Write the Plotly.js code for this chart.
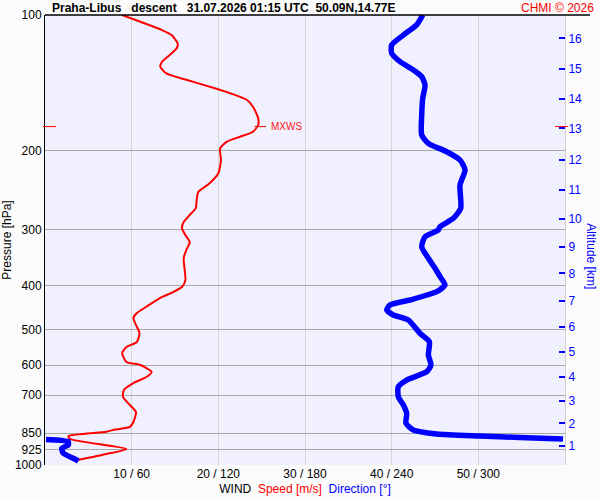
<!DOCTYPE html>
<html>
<head>
<meta charset="utf-8">
<script src="https://cdn.plot.ly/plotly-3.0.1.min.js"></script>
<style>
  body { margin: 0; background: #fbfbfb; }
  #chart-area { width: 600px; height: 500px; }
</style>
</head>
<body>
<div id="chart-area"></div>
<script>
// wind speed profile [m/s] against pressure [hPa]
const speedP = [100, 103.5, 108, 110.8, 115.6, 118.6, 122.7, 127, 130.3, 134.8, 139.5, 145.5, 149.3, 154.5,
  159.9, 169.6, 175.6, 181.7, 186.4, 191.2, 197.8, 210, 224.8, 236.6, 247, 257.5, 268.6, 278.3, 288.5,
  297.6, 308.4, 319.7, 333, 346.8, 388.2, 402.3, 412.7, 425.2, 445, 459.5, 471.4, 488.6, 508.9, 532.9,
  546.7, 563.7, 590.3, 599.4, 621.4, 637.5, 657.4, 681.3, 706.2, 735.6, 762.5, 802.5, 823, 834, 843.3,
  862.1, 875.4, 921.5, 945.3, 974.7];
const speedV = [8.9, 11.0, 13.5, 14.6, 15.3, 15.2, 14.4, 13.5, 13.3, 14.0, 16.4, 19.6, 21.4, 23.3,
  24.0, 24.6, 24.6, 24.0, 22.5, 21.0, 20.2, 20.3, 20.0, 19.0, 17.7, 17.5, 17.4, 16.7, 16.0,
  15.8, 16.2, 16.7, 16.3, 16.0, 16.2, 15.8, 14.8, 13.3, 11.7, 10.6, 10.2, 10.5, 10.9, 10.6,
  9.4, 8.9, 9.4, 11.0, 12.3, 11.7, 10.2, 9.1, 9.0, 9.8, 10.5, 10.2, 9.8, 8.1, 7.1,
  2.7, 2.9, 9.4, 7.1, 3.8];

// wind direction profile [deg] against pressure [hPa]
const dirP = [100, 105.2, 110.8, 116.6, 121.6, 127, 132.5, 137.1, 143.1, 153.1, 166.8, 184.8, 192.8,
  201.3, 210, 221, 238.7, 268.9, 283, 295.4, 300.5, 311, 327.3, 347.3, 365.5, 381.5, 398.1, 412,
  429.9, 441.1, 452.5, 464.2, 476.2, 509.7, 532.1, 569.4, 599.4, 620.4, 647.4, 669.9, 705.1, 735.6,
  767.8, 808, 836, 853.3, 862.1, 868.7, 875.4, 877.6, 887.6, 902.7, 918.2, 941.9, 966.3, 979.7];
const dirV = [261.5, 257.3, 248.1, 240.0, 240.0, 245.8, 255.0, 260.8, 263.1, 261.5, 260.8, 260.8, 265.4,
  278.1, 287.3, 290.8, 287.3, 287.8, 282.7, 273.5, 272.3, 263.1, 260.8, 265.4, 270.0, 273.5, 276.9, 271.2,
  252.7, 238.8, 236.6, 241.1, 251.5, 259.6, 266.1, 265.4, 267.2, 264.3, 250.4, 244.6, 244.6, 248.1,
  250.4, 249.9, 255.0, 271.2, 301.2, 328.8, 358.6, 0.7, 16.1, 16.1, 11.6, 12.7, 19.6, 23.1];

// axis ticks
const presTicks = [100, 200, 300, 400, 500, 600, 700, 850, 925, 1000];
const windTicks = [10, 20, 30, 40, 50];
const altKm = [1, 2, 3, 4, 5, 6, 7, 8, 9, 10, 11, 12, 13, 14, 15, 16];
const altP = [907.4, 808, 720.8, 636.5, 561.7, 492.8, 431.4, 375, 327.3, 284, 244.7, 210, 178.6, 153.5, 131.8, 112.7];

// max wind level
const mxwsP = 177;
const mxwsV = 24.6;

const FONT = "Arial, 'Liberation Sans', sans-serif";

// break the direction line where it wraps over 360 -> 0
let dirX = [], dirY = [];
for (let i = 0; i < dirV.length; i++) {
  if (i > 0 && Math.abs(dirV[i] - dirV[i - 1]) > 180) {
    dirX.push(null);
    dirY.push(null);
  }
  dirX.push(dirV[i]);
  dirY.push(dirP[i]);
}

let data = [
  {
    x: speedV,
    y: speedP,
    type: "scatter",
    mode: "lines",
    line: { color: "#ff0000", width: 2, shape: "spline", smoothing: 0.6 },
    hoverinfo: "none",
  },
  {
    x: dirX,
    y: dirY,
    xaxis: "x2",
    yaxis: "y2",
    type: "scatter",
    mode: "lines",
    line: { color: "#0000ff", width: 5.5, shape: "spline", smoothing: 0.6 },
    connectgaps: false,
    hoverinfo: "none",
  },
];

// pressure level -> paper fraction (log axis, 100 hPa at the top, 1000 at the bottom)
const mxwsY = 1 - (Math.log10(mxwsP) - 2);

var layout = {
  width: 600,
  height: 500,
  margin: { l: 45, r: 35, t: 15, b: 35 },
  paper_bgcolor: "#fbfbfb",
  plot_bgcolor: "#f0f0ff",
  showlegend: false,
  font: { family: FONT, size: 12, color: "#000" },
  xaxis: {
    range: [0, 60],
    tickvals: windTicks,
    ticktext: windTicks.map((s) => s + " / " + s * 6),
    showgrid: true,
    gridcolor: "#d6d6d6",
    zeroline: false,
    showline: false,
    ticks: "",
    tickfont: { size: 12, color: "#000" },
    title: {
      text: 'WIND&nbsp;&nbsp;<span style="color:#ff0000">Speed [m/s]</span>&nbsp;&nbsp;<span style="color:#0000ff">Direction [°]</span>',
      font: { size: 12, color: "#000" },
      standoff: 4,
    },
  },
  xaxis2: {
    range: [0, 360],
    overlaying: "x",
    visible: false,
  },
  yaxis: {
    type: "log",
    range: [3, 2],
    autorange: false,
    tickvals: presTicks,
    ticktext: presTicks.map(String),
    showgrid: true,
    gridcolor: "#a8a8a8",
    gridwidth: 1,
    zeroline: false,
    showline: true,
    linecolor: "#000",
    linewidth: 1,
    ticks: "",
    tickfont: { size: 12, color: "#000" },
    title: { text: "Pressure [hPa]", font: { size: 12, color: "#000" }, standoff: 6 },
  },
  yaxis2: {
    type: "log",
    range: [3, 2],
    autorange: false,
    overlaying: "y",
    side: "right",
    tickvals: altP,
    ticktext: altKm.map(String),
    ticks: "inside",
    ticklen: 6,
    tickwidth: 2,
    tickcolor: "#0000ff",
    tickfont: { size: 12, color: "#0000ff" },
    showgrid: false,
    zeroline: false,
    showline: true,
    linecolor: "#cfcfcf",
  },
  shapes: [
    // header line on top of the plot
    { type: "line", xref: "paper", yref: "paper", x0: 0, x1: 1.048, y0: 1, y1: 1, line: { color: "#000", width: 1.5 } },
    // max wind markers
    { type: "line", xref: "paper", yref: "paper", x0: -0.004, x1: 0.021, y0: mxwsY, y1: mxwsY, line: { color: "#ff0000", width: 1 } },
    { type: "line", xref: "paper", yref: "paper", x0: 0.981, x1: 1.006, y0: mxwsY, y1: mxwsY, line: { color: "#ff0000", width: 1 } },
    { type: "line", xref: "x", yref: "paper", x0: mxwsV - 0.4, x1: mxwsV + 0.9, y0: mxwsY, y1: mxwsY, line: { color: "#ff0000", width: 1 } },
  ],
  annotations: [
    {
      text: "<b>Praha-Libus&nbsp;&nbsp;&nbsp;descent&nbsp;&nbsp;&nbsp;31.07.2026 01:15 UTC&nbsp;&nbsp;50.09N,14.77E</b>",
      xref: "paper", yref: "paper", x: 0.0096, y: 1.0156,
      xanchor: "left", yanchor: "middle", showarrow: false,
      font: { size: 12, color: "#000" },
    },
    {
      text: "CHMI © 2026",
      xref: "paper", yref: "paper", x: 1.06, y: 1.0156,
      xanchor: "right", yanchor: "middle", showarrow: false,
      font: { size: 12, color: "#ff0000" },
    },
    {
      text: "Altitude [km]",
      xref: "paper", yref: "paper", x: 1.05, y: 0.464,
      xanchor: "center", yanchor: "middle", textangle: 90, showarrow: false,
      font: { size: 12, color: "#0000ff" },
    },
    {
      text: "MXWS",
      xref: "x", yref: "paper", x: mxwsV + 1.2, y: mxwsY,
      xanchor: "left", yanchor: "middle", showarrow: false,
      font: { size: 10, color: "#ff2020" },
    },
  ],
};

var config = { staticPlot: true };

Plotly.newPlot("chart-area", data, layout, config);
</script>
</body>
</html>
